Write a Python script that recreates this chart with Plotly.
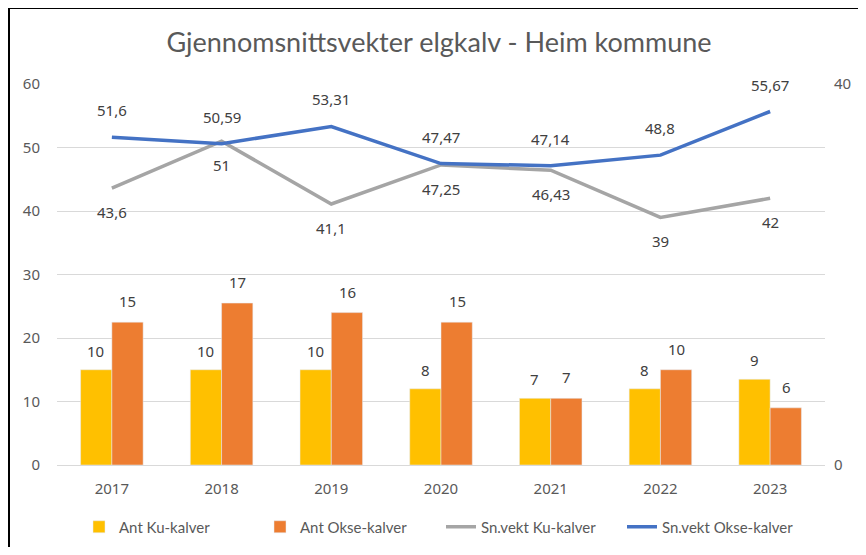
import plotly.graph_objects as go

years = ["2017", "2018", "2019", "2020", "2021", "2022", "2023"]
ant_ku = [10, 10, 10, 8, 7, 8, 9]
ant_okse = [15, 17, 16, 15, 7, 10, 6]
vekt_ku = [43.6, 51, 41.1, 47.25, 46.43, 39, 42]
vekt_okse = [51.6, 50.59, 53.31, 47.47, 47.14, 48.8, 55.67]

title = "Gjennomsnittsvekter elgkalv - Heim kommune"
left_ticks = [0, 10, 20, 30, 40, 50, 60]
right_ticks = [0, 40]

TXT = "#595959"
LBL = "#404040"
FONT = "Lato"
NUMFONT = "Noto Sans"

W, H = 850, 539          # page body has an 8px margin on every side
L, T, PW, PH = 49, 76, 768, 381

def fmt(v):
    return str(v).replace(".", ",")

fig = go.Figure()
fig.add_trace(go.Bar(x=years, y=ant_ku, name="Ant Ku-kalver", marker_color="#FFC000", yaxis="y"))
fig.add_trace(go.Bar(x=years, y=ant_okse, name="Ant Okse-kalver", marker_color="#ED7D31", yaxis="y"))
fig.add_trace(go.Scatter(x=years, y=vekt_ku, name="Sn.vekt Ku-kalver", mode="lines",
                         line=dict(color="#A5A5A5", width=3.5), yaxis="y2"))
fig.add_trace(go.Scatter(x=years, y=vekt_okse, name="Sn.vekt Okse-kalver", mode="lines",
                         line=dict(color="#4472C4", width=3.5), yaxis="y2"))

lblfont = dict(family=NUMFONT, size=15, color=LBL)
annotations = []
for i, v in enumerate(ant_ku):
    annotations.append(dict(x=i, y=v, xref="x", yref="y", text=fmt(v), showarrow=False,
                            xshift=-16, yshift=19, font=lblfont))
for i, v in enumerate(ant_okse):
    annotations.append(dict(x=i, y=v, xref="x", yref="y", text=fmt(v), showarrow=False,
                            xshift=16, yshift=21, font=lblfont))
for i, v in enumerate(vekt_okse):
    annotations.append(dict(x=i, y=v, xref="x", yref="y2", text=fmt(v), showarrow=False,
                            yshift=27, font=lblfont))
for i, v in enumerate(vekt_ku):
    annotations.append(dict(x=i, y=v, xref="x", yref="y2", text=fmt(v), showarrow=False,
                            yshift=-24, font=lblfont))

def px2x(px):
    return (px - L) / PW

def py2y(py):
    return (T + PH - py) / PH

shapes = [
    dict(type="line", xref="paper", yref="paper", x0=px2x(1), x1=px2x(1), y0=py2y(0), y1=py2y(H),
         line=dict(color="black", width=2)),
    dict(type="line", xref="paper", yref="paper", x0=px2x(0), x1=px2x(W), y0=py2y(0), y1=py2y(0),
         line=dict(color="black", width=2)),
]

fig.update_layout(
    width=W, height=H,
    margin=dict(l=L, r=W - L - PW, t=T, b=H - T - PH, autoexpand=False),
    paper_bgcolor="white", plot_bgcolor="white",
    title=dict(text=title, x=431 / W, xanchor="center", y=1 - 35 / H, yanchor="middle",
               font=dict(family=FONT, size=27, color=TXT)),
    barmode="group", bargap=0.43, bargroupgap=0,
    xaxis=dict(type="category", range=[-0.5, 6.5], showgrid=False, showline=False, ticks="",
               tickfont=dict(family=NUMFONT, size=15, color=TXT), ticklabelstandoff=13),
    yaxis=dict(side="right", range=[0, 40], tickvals=right_ticks, showgrid=False, zeroline=False,
               tickfont=dict(family=NUMFONT, size=15, color=TXT), ticklabelstandoff=8),
    yaxis2=dict(side="left", overlaying="y", range=[0, 60], tickvals=left_ticks, showgrid=True,
                gridcolor="#D9D9D9", gridwidth=1, zeroline=True, zerolinecolor="#D9D9D9", zerolinewidth=1,
                tickfont=dict(family=NUMFONT, size=15, color=TXT), ticklabelstandoff=16),
    legend=dict(orientation="h", x=0.5, xanchor="center", y=py2y(519), yanchor="middle",
                font=dict(family=FONT, size=15, color=TXT), traceorder="normal",
                entrywidth=136, itemwidth=30),
    annotations=annotations,
    shapes=shapes,
)

fig.write_html("out.html")
